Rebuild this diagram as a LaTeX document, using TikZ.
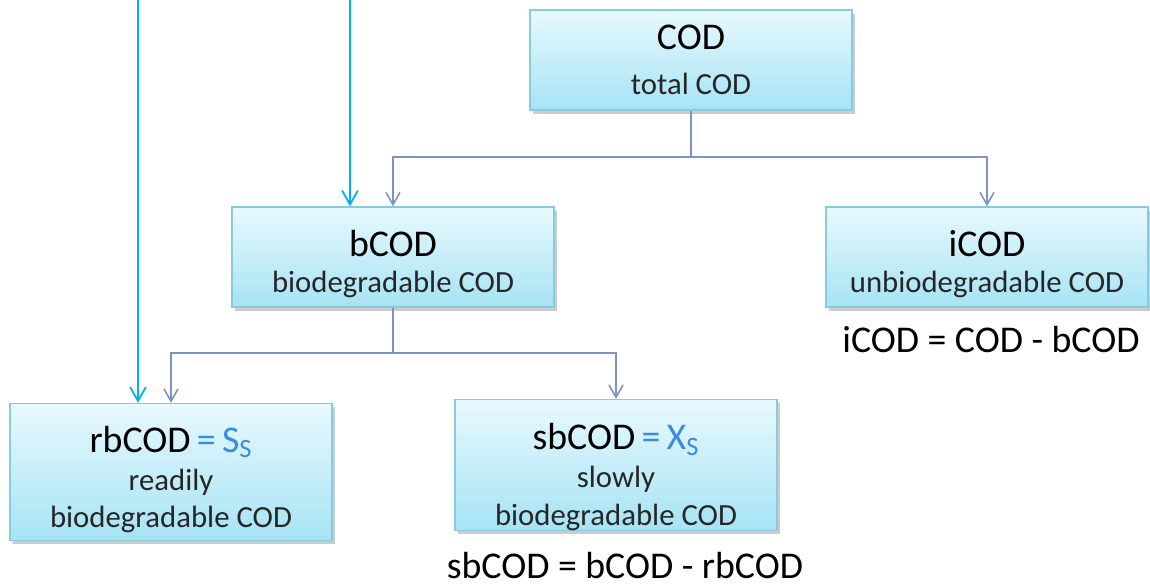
\documentclass[tikz,border=0pt]{standalone}
\usepackage{fontspec}
\setmainfont{Carlito}
\usetikzlibrary{arrows.meta,shadows}

\definecolor{boxtop}{HTML}{E8F9FE}
\definecolor{boxbot}{HTML}{A6E3F4}
\definecolor{boxline}{HTML}{86CCDF}
\definecolor{linkblue}{HTML}{7F92C6}
\definecolor{feedcyan}{HTML}{00B0F0}
\definecolor{eqblue}{HTML}{3A8DDE}
\definecolor{subtext}{HTML}{262626}

\newcommand{\cbig}{\fontsize{21.5}{25}\selectfont}
\newcommand{\csmall}{\fontsize{17.5}{21}\selectfont}
\newcommand{\toplift}[1]{\rule{0pt}{#1}}

\tikzset{
  codbox/.style={draw=boxline, line width=0.8pt, top color=boxtop, bottom color=boxbot,
    minimum width=6.44cm, inner sep=0pt, align=center, font=\csmall,
    drop shadow={shadow xshift=1.5pt, shadow yshift=-2pt, fill=black!40, opacity=0.5}},
  link/.style={draw=linkblue, line width=0.9pt, -{Straight Barb[length=7pt,width=8pt]}},
  feed/.style={draw=feedcyan, line width=1pt, -{Straight Barb[length=8pt,width=9pt]}},
}

\begin{document}
\begin{tikzpicture}
    \useasboundingbox (0,0) rectangle (23,11.72);

    % boxes
    \node[codbox, minimum height=2cm] (cod) at (13.82,10.52) {{\cbig COD}\\[4.5pt]\textcolor{subtext}{total COD}};
    \node[codbox, minimum height=2cm] (bcod) at (7.86,6.58) {{\cbig\toplift{23pt}bCOD}\\[-0.5pt]\textcolor{subtext}{biodegradable COD}};
    \node[codbox, minimum height=2cm] (icod) at (19.74,6.58) {{\cbig\toplift{23pt}iCOD}\\[-0.5pt]\textcolor{subtext}{unbiodegradable COD}};
    \node[codbox, minimum height=2.74cm] (rbcod) at (3.42,2.28)
        {{\cbig\toplift{23.5pt}rbCOD{\color{eqblue}\,=\,S\textsubscript{S}}}\\[0.5pt]\textcolor{subtext}{readily}\\[0.5pt]\textcolor{subtext}{biodegradable COD}};
    \node[codbox, minimum height=2.54cm] (sbcod) at (12.32,2.42)
        {{\cbig\toplift{28.5pt}sbCOD{\color{eqblue}\,=\,X\textsubscript{S}}}\\[0.5pt]\textcolor{subtext}{slowly}\\[0.5pt]\textcolor{subtext}{biodegradable COD}};

    % equations
    \node[anchor=base, font=\cbig] (icodeq) at (19.82,4.66) {iCOD = COD - bCOD};
    \node[anchor=base, font=\cbig] (sbcodeq) at (12.5,0.14) {sbCOD = bCOD - rbCOD};

    % tree
    \coordinate (split1) at (13.82,8.58);
    \coordinate (split2) at (7.86,4.66);
    \draw[link] (cod.south) -- (split1) -| (bcod.north);
    \draw[link] (split1) -| (icod.north);
    \draw[link] (bcod.south) -- (split2) -| (rbcod.north);
    \draw[link] (split2) -| (sbcod.north);

    % incoming lines
    \coordinate (feedA) at (2.76,11.72);
    \coordinate (feedB) at (7.0,11.72);
    \draw[feed] (feedA) -- (feedA |- rbcod.north);
    \draw[feed] (feedB) -- (feedB |- bcod.north);
\end{tikzpicture}
\end{document}
